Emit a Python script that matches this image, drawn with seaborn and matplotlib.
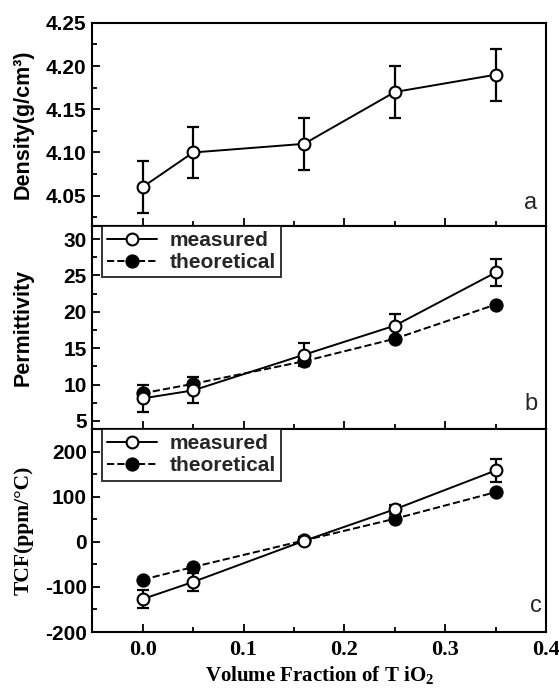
import matplotlib
matplotlib.use("Agg")
import matplotlib.pyplot as plt
import seaborn as sns
from matplotlib.ticker import MultipleLocator, FormatStrFormatter

# Data
x_frac = [0.0, 0.05, 0.16, 0.25, 0.35]

density = [4.06, 4.10, 4.11, 4.17, 4.19]
density_err = [0.03, 0.03, 0.03, 0.03, 0.03]

perm_measured = [8.1, 9.2, 14.1, 18.1, 25.4]
perm_measured_err = [1.8, 1.8, 1.6, 1.6, 1.9]
perm_theory = [8.8, 10.1, 13.2, 16.3, 21.0]

tcf_measured = [-127, -89, 2, 72, 158]
tcf_measured_err = [20, 20, 8, 10, 25]
tcf_theory = [-84, -56, 3, 51, 110]

sns.set_theme(style="ticks")
plt.rcParams['font.family'] = ['Liberation Sans', 'DejaVu Sans']
plt.rcParams['mathtext.fontset'] = 'custom'
plt.rcParams['mathtext.rm'] = 'Liberation Serif'
plt.rcParams['mathtext.bf'] = 'Liberation Serif:bold'

fig = plt.figure(figsize=(5.59, 6.93), dpi=100)
axes = fig.subplots(3, 1, sharex=True)
fig.subplots_adjust(left=0.165, right=0.977, top=0.967, bottom=0.088, hspace=0)

open_kw = dict(color='black', marker='o', markersize=8.5, markerfacecolor='white',
               markeredgecolor='black', markeredgewidth=1.5, linewidth=1.4)
fill_kw = dict(color='black', marker='o', markersize=9.5, markerfacecolor='black',
               markeredgecolor='black', linewidth=1.4, linestyle='--', dashes=(4.5, 5))
err_kw = dict(fmt='none', ecolor='black', elinewidth=1.6, capsize=4, capthick=1.6, zorder=1)


def style_axis(ax, ylim, major, minor, ylabel, fmt, ylabel_serif=False):
    ax.set_xlim(-0.05, 0.4)
    ax.set_ylim(*ylim)
    ax.yaxis.set_major_locator(MultipleLocator(major))
    ax.yaxis.set_minor_locator(MultipleLocator(minor))
    ax.yaxis.set_major_formatter(FormatStrFormatter(fmt))
    ax.xaxis.set_major_locator(MultipleLocator(0.1))
    ax.xaxis.set_minor_locator(MultipleLocator(0.05))
    ax.tick_params(which='both', direction='in', top=False, right=False, width=1.3, colors='black')
    ax.tick_params(which='major', length=6)
    ax.tick_params(which='minor', length=3.5)
    ax.tick_params(axis='y', labelsize=15, pad=4)
    for sp in ax.spines.values():
        sp.set_linewidth(1.5)
        sp.set_color('black')
        sp.set_visible(True)
    for lab in ax.get_yticklabels():
        lab.set_fontweight('bold')
    fam = 'Liberation Serif' if ylabel_serif else 'Liberation Sans'
    ax.set_ylabel(ylabel, fontsize=15.5, fontweight='bold', family=fam, color='black')
    ax.yaxis.set_label_coords(-0.13, 0.5)


def add_legend(ax):
    handles, labels = ax.get_legend_handles_labels()
    leg = ax.legend([handles[1], handles[0]], [labels[1], labels[0]], loc='upper left',
                    frameon=True, fancybox=False, edgecolor='black', fontsize=15,
                    handlelength=2.4, handletextpad=0.6, borderpad=0.25, labelspacing=0.15,
                    borderaxespad=0.0, bbox_to_anchor=(0.022, 1.0))
    leg.get_frame().set_linewidth(1.4)
    for t in leg.get_texts():
        t.set_fontweight('bold')


# Panel a: density
ax = axes[0]
ax.errorbar(x_frac, density, yerr=density_err, **err_kw)
sns.lineplot(x=x_frac, y=density, ax=ax, **open_kw)
style_axis(ax, (4.015, 4.25), 0.05, 0.025, 'Density(g/cm³)', '%.2f')
ax.text(0.385, 4.042, 'a', fontsize=17, ha='center', va='center')

# Panel b: permittivity
ax = axes[1]
ax.errorbar(x_frac, perm_measured, yerr=perm_measured_err, **err_kw)
sns.lineplot(x=x_frac, y=perm_theory, ax=ax, label='theoretical', **fill_kw)
sns.lineplot(x=x_frac, y=perm_measured, ax=ax, label='measured', **open_kw)
style_axis(ax, (3.9, 31.8), 5, 2.5, 'Permittivity', '%d')
add_legend(ax)
ax.text(0.385, 7.3, 'b', fontsize=17, ha='center', va='center')

# Panel c: TCF
ax = axes[2]
ax.errorbar(x_frac, tcf_measured, yerr=tcf_measured_err, **err_kw)
sns.lineplot(x=x_frac, y=tcf_theory, ax=ax, label='theoretical', **fill_kw)
sns.lineplot(x=x_frac, y=tcf_measured, ax=ax, label='measured', **open_kw)
style_axis(ax, (-200, 250), 100, 50, 'TCF(ppm/°C)', '%d', ylabel_serif=True)
add_legend(ax)
ax.text(0.39, -142, 'c', fontsize=17, ha='center', va='center')

ax.set_xlabel(r'Volume Fraction of T iO$_\mathbf{2}$', fontsize=15, fontweight='bold',
              family='Liberation Serif', color='black', labelpad=3)
ax.xaxis.set_major_formatter(FormatStrFormatter('%.1f'))
ax.tick_params(axis='x', labelsize=16, pad=6)
for lab in ax.get_xticklabels():
    lab.set_fontweight('bold')
    lab.set_family('Liberation Serif')

fig.savefig('out.png', dpi=100)
